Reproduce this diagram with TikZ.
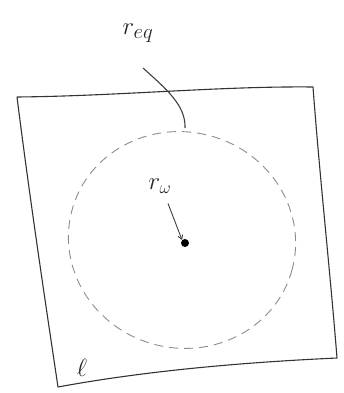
\documentclass[tikz,border=0pt]{standalone}
\usetikzlibrary{arrows.meta}
\begin{document}
\begin{tikzpicture}[x=1pt,y=-1pt,
  edge/.style={draw=black!80,line width=1.1pt,line join=round},
  lbl/.style={inner sep=0pt,text=black!85},
  ring/.style={draw=black!45,line width=0.9pt,dash pattern=on 9pt off 6pt},
  pointer/.style={draw=black!75,line width=0.9pt}]
\useasboundingbox (0,0) rectangle (343,393);
% square (hand drawn)
\coordinate (tl) at (17,97);
\coordinate (tr) at (313,87);
\coordinate (br) at (337,358);
\coordinate (bl) at (58,387);
\draw[edge] (tl) .. controls (120,96) and (220,86) .. (tr)
  .. controls (320,180) and (330,270) .. (br)
  .. controls (250,362) and (150,370) .. (bl)
  .. controls (45,300) and (30,200) .. (tl);
% dashed circle
\draw[ring,rotate around={-15:(182,240)}] (182,240) ellipse [x radius=114, y radius=108];
% centre dot
\node[circle,fill=black,inner sep=0pt,minimum width=8pt,minimum height=7pt] (dot) at (185,243) {};
% labels
\node[lbl,font=\fontsize{30}{30}\selectfont] (req) at (138,33) {$r_{eq}$};
\node[lbl,font=\fontsize{24}{24}\selectfont] (rw) at (160,186) {$r_\omega$};
\node[lbl,font=\fontsize{30}{30}\selectfont] (ell) at (82,368) {$\ell$};
% connectors
\coordinate (reqend) at (185,128);
\draw[pointer,line width=1.1pt] (143,68) .. controls (165,88) and (186,105) .. (reqend);
\draw[pointer,-{Straight Barb[length=4pt,width=5pt]}] (rw.south) ++(8,10) -- (dot.north west);
\end{tikzpicture}
\end{document}
